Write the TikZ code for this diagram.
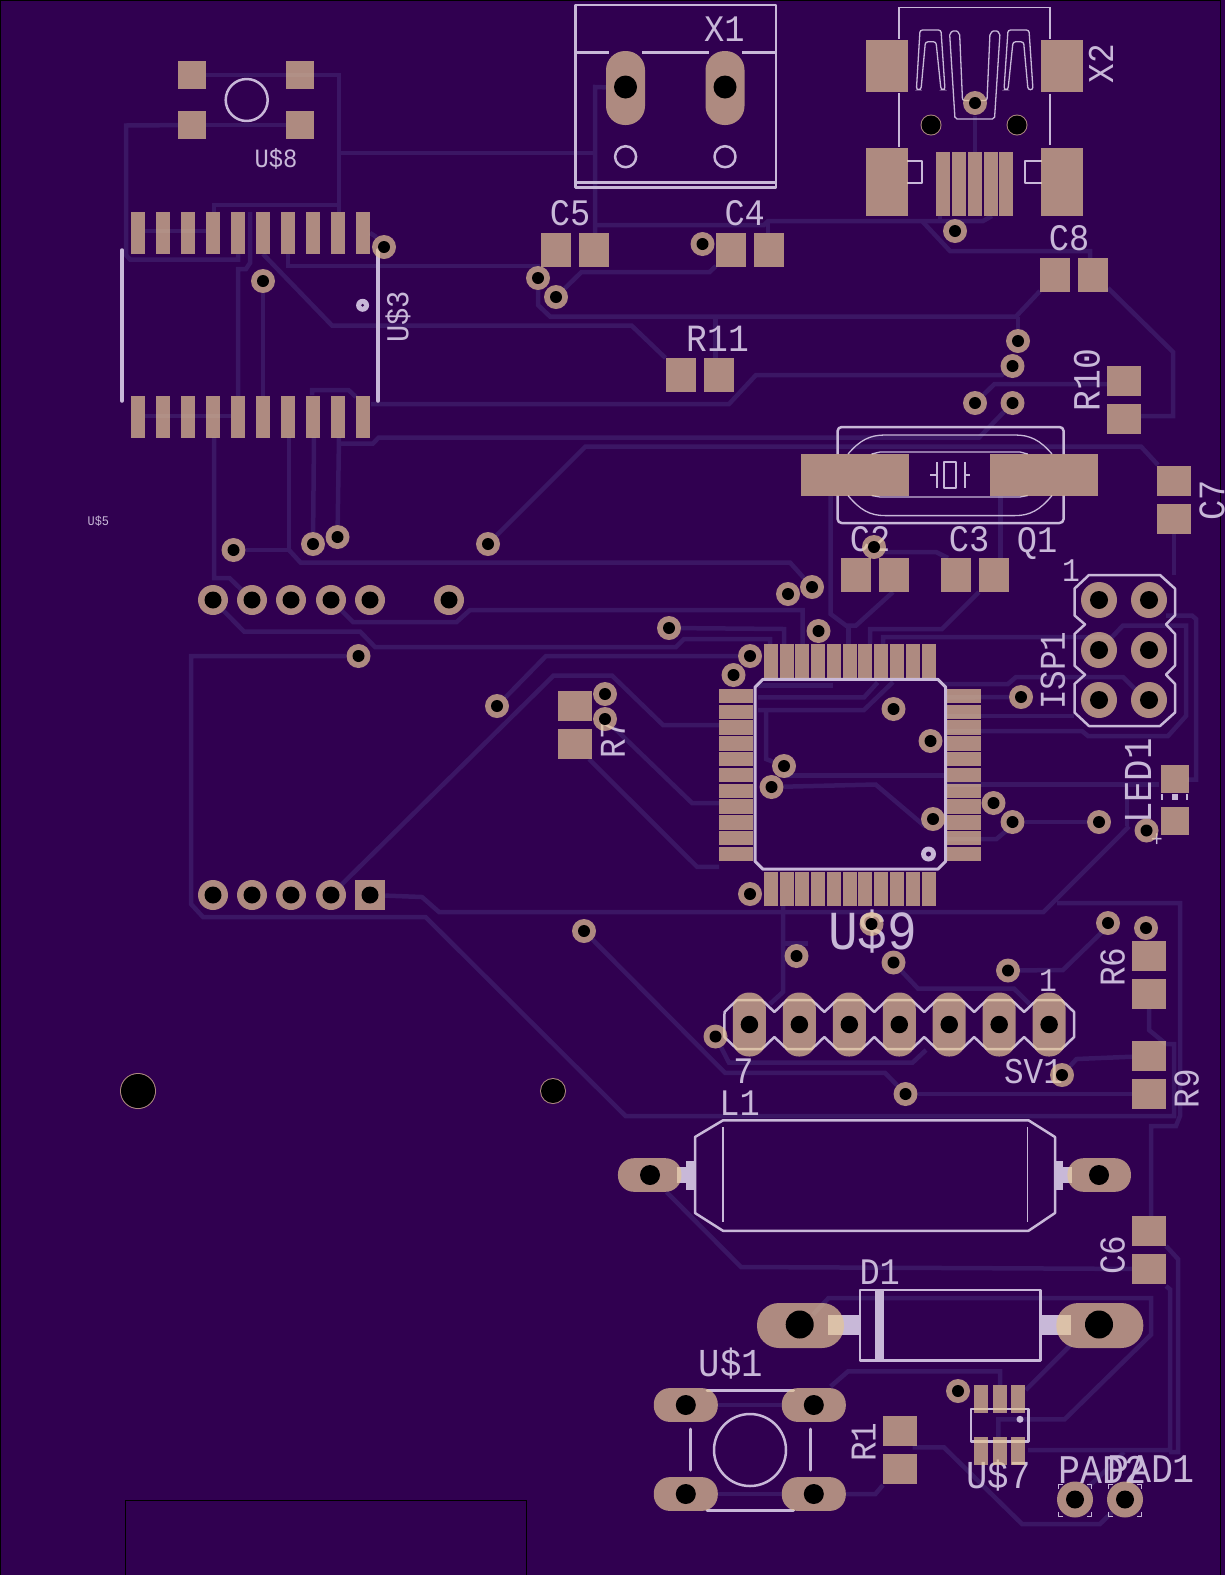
\documentclass[tikz,border=0pt]{standalone}
\usepackage{fontspec}
\newfontfamily\boardfont[Scale=1.1,FakeStretch=0.9]{Liberation Mono}
\definecolor{boardcol}{HTML}{300050}
\definecolor{trackcol}{HTML}{3B1664}
\definecolor{padcol}{HTML}{E4C595}
\definecolor{silkcol}{HTML}{C8B8D8}
\pgfdeclarelayer{boardlayer}
\pgfdeclarelayer{tracklayer}
\pgfdeclarelayer{silklayer}
\pgfsetlayers{boardlayer,tracklayer,silklayer,main}
\tikzset{
  track/.style={draw=trackcol, line width=4.5pt},
  silk/.style={draw=silkcol, line width=2.5pt, line join=round},
  thinsilk/.style={draw=silkcol, line width=1.3pt},
  smd/.style={rectangle, fill=padcol, fill opacity=0.7, inner sep=0pt},
  thru/.style={circle, fill=padcol, fill opacity=0.7, inner sep=0pt},
  drill/.style={circle, fill=black, inner sep=0pt},
  silklabel/.style={text=silkcol, inner sep=0pt, font=\boardfont\fontsize{#1}{#1}\selectfont},
}
\begin{document}
\begin{tikzpicture}[x=1pt, y=-1pt]
  \useasboundingbox (0,0) rectangle (1225,1575);
  \begin{pgfonlayer}{boardlayer}
    \fill[boardcol] (0,0) rectangle (1225,1575);
    \draw[black, line width=1pt] (0.5,1575) -- (0.5,0.5) -- (1220,0.5) -- (1220,1575);
  \end{pgfonlayer}

  % vias
  \foreach \name/\x/\y in {a/384/247, b/263/281, c/538/278, d/556/297, e/702.5/244, f/975/103, g/955/231, h/1018/341,
      i/1012.5/366, j/975/403, k/1012.5/403, l/233.5/550, m/313/544, n/337.5/537, o/488/544, p/358.5/656, q/497/706,
      r/605/694, s/605/719, t/584/931, u/874/547, v/788/594, w/812/587, x/669/628, y/818.5/631, z/750/656,
      aa/733.5/675, ab/893.5/709, ac/930.5/741, ad/784/766, ae/771.5/787, af/933/819, ag/993.5/803, ah/1012.5/822,
      ai/1021/697, aj/1099/822, ak/1146.5/830.5, al/750/894, am/871.5/924, an/893.5/962.5, ao/796.5/956, ap/1008/970.5,
      aq/1108/923, ar/1146/928, as/715.5/1036.5, at/1062/1075, au/905.5/1094, av/958/1391}
    {
    \node[thru, minimum size=24pt] (via\name) at (\x,\y) {};
    \node[drill, minimum size=12pt] (hole\name) at (\x,\y) {};
    }

  % header pins
  \foreach \name/\x/\y in {1/213/600, 2/252/600, 3/291/600, 4/331/600, 5/370/600, 6/449/600,
      7/213/895, 8/252/895, 9/291/895, 10/331/895}
    {
    \node[thru, minimum size=30pt] (pin\name) at (\x,\y) {};
    \node[drill, minimum size=17pt] (pinhole\name) at (\x,\y) {};
    }
  \node[smd, minimum size=30pt] (pin11) at (370,895) {};
  \node[drill, minimum size=17pt] (pinhole11) at (370,895) {};

  % mounting holes
  \node[thru, minimum size=36pt] (mounta) at (138,1091) {};
  \node[drill, minimum size=34pt] (mountholea) at (138,1091) {};
  \node[thru, minimum size=26pt] (mountb) at (553,1091) {};
  \node[drill, minimum size=24pt] (mountholeb) at (553,1091) {};
  \node[thru, minimum size=21pt] (mountc) at (931,125) {};
  \node[drill, minimum size=19pt] (mountholec) at (931,125) {};
  \node[thru, minimum size=21pt] (mountd) at (1017,125) {};
  \node[drill, minimum size=19pt] (mountholed) at (1017,125) {};

  % U$8
  \node[smd, minimum size=28pt] (u8a) at (192,75) {};
  \node[smd, minimum size=28pt] (u8b) at (300,75) {};
  \node[smd, minimum size=28pt] (u8c) at (192,125) {};
  \node[smd, minimum size=28pt] (u8d) at (300,125) {};

  % U$3
  \foreach \i in {0,...,9} {
    \node[smd, minimum width=14pt, minimum height=42pt] (u3t\i) at ({138+25*\i},233) {};
    \node[smd, minimum width=14pt, minimum height=42pt] (u3b\i) at ({138+25*\i},416.5) {};
  }

  % two pad parts
  \foreach \name/\x/\y in {c5a/556/250, c5b/594/250, c4a/731/250, c4b/769/250, c8a/1055/275, c8b/1093/275, r11a/681/375,
      r11b/719/375, c2a/855.5/575, c2b/893.5/575, c3a/955.5/575, c3b/993.5/575}
    {\node[smd, minimum width=30pt, minimum height=34pt] (\name) at (\x,\y) {};}
  \foreach \name/\x/\y in {r10a/1124/381, r10b/1124/419, c7a/1174/481, c7b/1174/519, r7a/575/706, r7b/575/744,
      r6a/1149/956, r6b/1149/994, r9a/1149/1056, r9b/1149/1094, c6a/1149/1231, c6b/1149/1269, r1a/899.5/1431, r1b/899.5/1469}
    {\node[smd, minimum width=34pt, minimum height=30pt] (\name) at (\x,\y) {};}

  % X1
  \node[smd, minimum width=39pt, minimum height=74pt, rounded corners=19pt] (x1a) at (625.5,88) {};
  \node[smd, minimum width=39pt, minimum height=74pt, rounded corners=19pt] (x1b) at (725,88) {};
  \node[drill, minimum size=23pt] (x1holea) at (625.5,87) {};
  \node[drill, minimum size=23pt] (x1holeb) at (725,87) {};

  % X2
  \node[smd, minimum width=42pt, minimum height=52pt] (x2a) at (886.5,66) {};
  \node[smd, minimum width=42pt, minimum height=52pt] (x2b) at (1062,66) {};
  \node[smd, minimum width=42pt, minimum height=68pt] (x2c) at (886.5,182) {};
  \node[smd, minimum width=42pt, minimum height=68pt] (x2d) at (1062,182) {};
  \foreach \name/\x in {p/943.3, q/958.6, r/974.6, s/990.6, t/1006}
    {\node[smd, minimum width=14pt, minimum height=64pt] (x2\name) at (\x,184) {};}

  % Q1
  \node[smd, minimum width=108pt, minimum height=41.5pt] (q1a) at (854.5,474.8) {};
  \node[smd, minimum width=108pt, minimum height=41.5pt] (q1b) at (1044,474.8) {};

  % ISP1
  \foreach \name/\x/\y in {a/1099/600, b/1149/600, c/1099/650, d/1149/650, e/1099/700, f/1149/700} {
    \node[thru, minimum size=36pt] (isp\name) at (\x,\y) {};
    \node[drill, minimum size=18pt] (isphole\name) at (\x,\y) {};
  }

  % LED1
  \node[smd, minimum width=28pt, minimum height=28pt] (leda) at (1175,779) {};
  \node[smd, minimum width=28pt, minimum height=28pt] (ledb) at (1175,821) {};

  % U$9
  \foreach \i in {0,...,10} {
    \node[smd, minimum width=14pt, minimum height=34pt] (qt\i) at ({770.8+15.78*\i},661) {};
    \node[smd, minimum width=14pt, minimum height=34pt] (qb\i) at ({770.8+15.78*\i},888.5) {};
    \node[smd, minimum width=34pt, minimum height=14.4pt] (ql\i) at (736,{695.9+15.8*\i}) {};
    \node[smd, minimum width=34pt, minimum height=14.4pt] (qr\i) at (963.5,{695.9+15.8*\i}) {};
  }

  % SV1
  \foreach \i in {0,...,6} {
    \node[smd, minimum width=33pt, minimum height=64pt, rounded corners=16pt] (sv\i) at ({749.4+49.95*\i},1024.5) {};
    \node[drill, minimum size=17.5pt] (svhole\i) at ({749.4+49.95*\i},1024.5) {};
  }

  % L1
  \node[smd, minimum width=63.5pt, minimum height=33.6pt, rounded corners=16pt] (l1a) at (649.7,1175) {};
  \node[smd, minimum width=63.5pt, minimum height=33.6pt, rounded corners=16pt] (l1b) at (1099.2,1175) {};
  \node[drill, minimum size=20pt] (l1holea) at (650,1175) {};
  \node[drill, minimum size=20pt] (l1holeb) at (1099,1175) {};

  % D1
  \node[smd, minimum width=87pt, minimum height=45pt, rounded corners=22pt] (d1a) at (800.5,1325.5) {};
  \node[smd, minimum width=87pt, minimum height=45pt, rounded corners=22pt] (d1b) at (1099.8,1325.5) {};
  \node[drill, minimum size=28pt] (d1holea) at (799.7,1324.5) {};
  \node[drill, minimum size=28pt] (d1holeb) at (1099,1324.5) {};

  % U$1
  \foreach \name/\x/\y in {a/685.8/1405, b/813.8/1405, c/685.8/1494, d/813.8/1494} {
    \node[smd, minimum width=64pt, minimum height=33.8pt, rounded corners=16pt] (sw\name) at (\x,\y) {};
    \node[drill, minimum size=20pt] (swhole\name) at (\x,\y) {};
  }

  % U$7
  \foreach \name/\x in {a/980.5, b/999.5, c/1018.3} {
    \node[smd, minimum width=14pt, minimum height=28pt] (u7t\name) at (\x,1399) {};
    \node[smd, minimum width=14pt, minimum height=28pt] (u7b\name) at (\x,1451) {};
  }

  % PAD1, PAD2
  \node[thru, minimum size=36pt] (pada) at (1075,1499.5) {};
  \node[drill, minimum size=18pt] (padholea) at (1075,1499.5) {};
  \node[thru, minimum size=36pt] (padb) at (1125,1499.5) {};
  \node[drill, minimum size=18pt] (padholeb) at (1125,1499.5) {};

  \begin{pgfonlayer}{tracklayer}
    \draw[track] (u8a) -- (339,75) -- (339,205) -- (214,205) -- (214,212);
    \draw[track] (339,205) -- (339,212);
    \draw[track] (u8c) -- (126,125.5) -- (126,255) -- (130,259.5) -- (238,259.5) -- (238,254);
    \draw[track] (u8c) -- (u8d);
    \draw[track] (145,231) -- (206,231);
    \draw[track] (145,416) -- (231,416);
    \draw[track] (339,153) -- (595,153);
    \draw[track] (x1a) -- (595,87) -- (595,233);
    \draw[track] (250,212) -- (250,263) -- (246,269) -- (238,269) -- (238,396);
    \draw[track] (viab) -- (263,396);
    \draw[track] (263,254) -- (332,325.5) -- (631.5,325.5) -- (665.5,358);
    \draw[track] (288,254) -- (288,266) -- (540,266);
    \draw[track] (370,233) -- (375,236) -- (viaa);
    \draw[track] (viad) -- (581.5,272) -- (709.6,272) -- (716,266);
    \draw[track] (viac) -- (538,305) -- (550,316.5) -- (1016,316.5) -- (1040,291);
    \draw[track] (1018,316.5) -- (viah);
    \draw[track] (715.5,316.5) -- (715.5,358);
    \draw[track] (597,225) -- (764,225) -- (768,221) -- (983,221) -- (992,216);
    \draw[track] (768,221) -- (768,233);
    \draw[track] (940,221) -- (940,216);
    \draw[track] (922,221) -- (950,251) -- (1090,251) -- (1090,258);
    \draw[track] (975,115.5) -- (975,152);
    \draw[track] (1108,288) -- (1173,352) -- (1173,416) -- (1141,416);
    \draw[track] (1107,384) -- (994.5,384) -- (viaj);
    \draw[track] (viai) -- (1002,375) -- (756,375) -- (729,404) -- (371,404);
    \draw[track] (312,395) -- (312,390) -- (348.5,390) -- (356,397);
    \draw[track] (339,443.5) -- (373,443.5) -- (378.6,437.6) -- (979,437.6) -- (viak);
    \draw[track] (viao) -- (585.5,446.5) -- (1141,446.5) -- (1158,465);
    \draw[track] (214,437) -- (214,578) -- (229.5,578) -- (pin2);
    \draw[track] (289,437) -- (289,550) -- (vial);
    \draw[track] (289,550) -- (300.5,562.5) -- (790,562.5) -- (viaw);
    \draw[track] (viam) -- (314,437);
    \draw[track] (vian) -- (339,437);
    \draw[track] (pin4) -- (353,622) -- (456.6,622) -- (470,610) -- (802.5,610) -- (802.5,644);
    \draw[track] (pin1) -- (244,631.5) -- (360,631.5) -- (375,647) -- (676,647) -- (684,639) -- (770,639) -- (770,644);
    \draw[track] (viax) -- (784,629) -- (784,644);
    \draw[track] (viaq) -- (546,656) -- (viaz);
    \draw[track] (pin10) -- (553.5,675.6) -- (612,675.6) -- (663,725) -- (719,725);
    \draw[track] (vias) -- (692,803) -- (719,803);
    \draw[track] (589,759) -- (697,866.8) -- (719,866.8);
    \draw[track] (pin11) -- (422,897) -- (439,912) -- (1043.5,912) -- (1129,826.4);
    \draw[track] (1057,903) -- (1180,903) -- (1180,1116) -- (1176,1126) -- (1151,1126) -- (1151,1216);
    \draw[track] (783,905) -- (783,992) -- (770,1004);
    \draw[track] (783,943.6) -- (808,943.6);
    \draw[track] (viap) -- (191,656) -- (191,904) -- (203,917) -- (425.5,917) -- (625.6,1116) -- (1174,1116) -- (1174,1044) -- (1166,1044);
    \draw[track] (1149,1009) -- (1149,1030) -- (1166,1044);
    \draw[track] (viat) -- (725,1072.8) -- (885,1072.8) -- (viaau);
    \draw[track] (830.6,495.7) -- (830.6,614) -- (846,625.5) -- (856,625.5) -- (893,592);
    \draw[track] (848.5,625.5) -- (848.5,644);
    \draw[track] (1000.6,495.7) -- (1000.6,558);
    \draw[track] (viau) -- (881,552) -- (936,552) -- (948,558);
    \draw[track] (979,592) -- (942,629) -- (870,629) -- (870,644);
    \draw[track] (883,644) -- (883,637) -- (1112,637) -- (1123,625.5) -- (1186,625.5) -- (1186,716) -- (1168,736) -- (1088,736) -- (1082,731) -- (944,731);
    \draw[track] (1166,615.6) -- (1192,615.6) -- (1196,619) -- (1196,779.5) -- (1188,779.5);
    \draw[track] (944,684) -- (1008,684) -- (1016,677) -- (1123,677) -- (1135,689);
    \draw[track] (944,697.4) -- (viaai);
    \draw[track] (944,716) -- (1074,716);
    \draw[track] (944,784.5) -- (1159,784.5);
    \draw[track] (944,839) -- (996.5,839) -- (1006,831) -- (viaah);
    \draw[track] (viaah) -- (viaaj);
    \draw[track] (1127,784.5) -- (1127,826);
    \draw[track] (758,710) -- (864,710) -- (893,682);
    \draw[track] (758,697.4) -- (864,697.4) -- (877.6,682.4);
    \draw[track] (758,685.7) -- (832.6,685.7);
    \draw[track] (766,712) -- (766,759) -- (viaad);
    \draw[track] (viaae) -- (875.6,784.5) -- (924.6,826) -- (viaaf);
    \draw[track] (784,775.4) -- (944,775.4);
    \draw[track] (viaan) -- (918,988.6) -- (1014,988.6) -- (1029.6,1004);
    \draw[track] (viaap) -- (1063,970) -- (1102,932) -- (viaaq);
    \draw[track] (viaau) -- (r9b);
    \draw[track] (viaat) -- (1076.5,1059) -- (r9a);
    \draw[track] (viaas) -- (729,1062.7) -- (912.5,1062.7) -- (926,1050);
    \draw[track] (l1a) -- (741,1267) -- (c6b);
    \draw[track] (1166,1246) -- (1178,1259) -- (1178,1452) -- (1169,1452);
    \draw[track] (1166,1286) -- (1170,1289.4) -- (1170,1450) -- (1028,1450);
    \draw[track] (pada) -- (1103,1473) -- (1124,1452);
    \draw[track] (813,1314.6) -- (828.6,1298) -- (1151,1298) -- (1151,1334.6) -- (1064.7,1419.3) -- (998.4,1419.3) -- (998.4,1437.4);
    \draw[track] (830.6,1386.5) -- (848,1371.4) -- (1000,1371.4) -- (1000,1385);
    \draw[track] (1025.7,1390) -- (1071,1344.6);
    \draw[track] (swa) -- (swb);
    \draw[track] (swc) -- (swd);
    \draw[track] (swd) -- (875.4,1494) -- (883,1485);
    \draw[track] (912.5,1447.4) -- (944,1447.4) -- (1022,1524) -- (1100,1524) -- (padb);
    \draw[track] (c7b) -- (1174,575);
  \end{pgfonlayer}

  \begin{pgfonlayer}{silklayer}
    % outline at the foot of the board
    \draw[black, line width=1pt] (125.5,1575) -- (125.5,1500.5) -- (526,1500.5) -- (526,1575);

    \draw[silk] (246.7,100) circle (21pt);
    \draw[silk, line width=3.5pt, line cap=round] (122,250) -- (122,401);
    \draw[silk, line width=3.5pt, line cap=round] (378,250) -- (378,401);
    \fill[silkcol] (362.6,305.3) circle (6.5pt);
    \fill[boardcol] (362.6,305.3) circle (1.5pt);

    % X1
    \draw[silk] (575.7,5) rectangle (776,187.5);
    \draw[silk] (575.7,182.5) -- (776,182.5);
    \draw[silk] (575.7,52.6) -- (609,52.6);
    \draw[silk] (642.4,52.6) -- (709,52.6);
    \draw[silk] (742,52.6) -- (775,52.6);
    \draw[silk] (625.6,156.7) circle (10.5pt);
    \draw[silk] (725,156.7) circle (10.5pt);

    % X2
    \draw[thinsilk, line width=1.6pt] (899,38.5) -- (899,7.4) -- (1050,7.4) -- (1050,38.5);
    \draw[thinsilk, line width=1.6pt] (899,93) -- (899,146.6);
    \draw[thinsilk, line width=1.6pt] (1050,93.7) -- (1050,144.6);
    \draw[thinsilk, rounded corners=2.5pt] (916.4,89.7) -- (920,30) -- (941,30) -- (945,89.7) -- (941,89.7) -- (936,41.8) -- (925.4,41.8) -- (921,89.7) -- cycle;
    \draw[thinsilk, rounded corners=2.5pt] (1033,89.7) -- (1029,30) -- (1008,30) -- (1004,89.7) -- (1008,89.7) -- (1013,41.8) -- (1023.6,41.8) -- (1028,89.7) -- cycle;
    \draw[thinsilk, rounded corners=2pt] (949.6,33) -- (955,30) -- (959.6,33) -- (962.5,100.4) -- (987,100.4) -- (990,33) -- (995,30) -- (1000,33) -- (994.5,119) -- (955,119) -- cycle;
    \draw[silk, line width=2pt] (907.4,160.7) -- (922.3,160.7) -- (922.3,183) -- (907.4,183);
    \draw[silk, line width=2pt] (1041.5,160.7) -- (1025,160.7) -- (1025,183) -- (1041.5,183);

    % Q1
    \draw[silk, rounded corners=4pt] (837.6,454) -- (837.6,427) -- (1063.6,427) -- (1063.6,454);
    \draw[silk, rounded corners=4pt] (837.6,495.5) -- (837.6,523) -- (1063.6,523) -- (1063.6,495.5);
    \draw[thinsilk] (848,454) .. controls (860,440) and (870,435) .. (885,435) -- (1015,435) .. controls (1030,435) and (1040,440) .. (1052,454);
    \draw[thinsilk] (848,495.5) .. controls (860,510) and (870,515.6) .. (885,515.6) -- (1015,515.6) .. controls (1030,515.6) and (1040,510) .. (1052,495.5);
    \draw[thinsilk] (871.6,454) -- (880,452) -- (1020,452) -- (1027.7,454);
    \draw[thinsilk] (871.6,495.5) -- (880,497) -- (1020,497) -- (1027.7,495.5);
    \draw[silk, line width=2pt] (944,462) rectangle (955.5,488);
    \draw[silk, line width=2pt] (937,462) -- (937,488);
    \draw[silk, line width=2pt] (964.5,462) -- (964.5,488);
    \draw[silk, line width=2pt] (930,475) -- (937,475);
    \draw[silk, line width=2pt] (964.5,475) -- (970,475);

    % ISP1
    \draw[silk] (1089,575) -- (1160,575) -- (1175,588.6) -- (1175,615.4) -- (1166,624.4) -- (1175,634) -- (1175,665.6) -- (1166,674.7) -- (1175,684) -- (1175,712.5) -- (1160,726) -- (1089,726) -- (1074.5,712.5) -- (1074.5,684) -- (1085,674.7) -- (1074.5,665.6) -- (1074.5,634) -- (1085,624.4) -- (1074.5,615.4) -- (1074.5,588.6) -- cycle;

    % LED1
    \fill[silkcol] (1171.7,794) rectangle (1177.7,800);
    \draw[silk, line width=1.6pt] (1162,794) -- (1162,800);
    \draw[silk, line width=1.6pt] (1187,794) -- (1187,800);

    % U$9
    \draw[silk, line width=3pt] (763,679.3) -- (937.7,679.3) -- (945.7,687.3) -- (945.7,861.2) -- (937.7,869.2) -- (763,869.2) -- (755,861.2) -- (755,687.3) -- cycle;
    \fill[silkcol] (928.5,854) circle (7.5pt);
    \fill[boardcol] (928.5,854) circle (2.5pt);

    % SV1
    \draw[silk] (724.5,1012)
      \foreach \i in {0,...,6} { -- ({749.4+49.95*\i-12.5},1000) -- ({749.4+49.95*\i+12.5},1000) -- ({749.4+49.95*\i+25},1012) }
      -- ({749.4+49.95*6+25},1037)
      \foreach \i in {6,...,0} { -- ({749.4+49.95*\i+12.5},1049) -- ({749.4+49.95*\i-12.5},1049) -- ({749.4+49.95*\i-25},1037) }
      -- cycle;

    % L1
    \draw[silk] (723,1120.3) -- (1028.5,1120.3) -- (1055,1137) -- (1055,1213) -- (1028.5,1230.8) -- (723,1230.8) -- (695,1213) -- (695,1137) -- cycle;
    \draw[thinsilk] (723,1127) -- (723,1222.4);
    \draw[thinsilk] (1027.7,1127) -- (1027.7,1222.4);
    \fill[silkcol] (686,1160.5) rectangle (695,1189.6);
    \fill[silkcol] (677,1167) rectangle (686,1183);
    \fill[silkcol] (1055,1160.5) rectangle (1063,1189.6);
    \fill[silkcol] (1063,1167) rectangle (1072,1183);

    % D1
    \draw[silk] (860,1290) rectangle (1040.5,1360.7);
    \fill[silkcol] (874.7,1290) rectangle (884,1360.7);
    \fill[silkcol] (828,1314.5) rectangle (860,1334.6);
    \fill[silkcol] (1040.5,1314.5) rectangle (1071.4,1334.6);

    % U$1
    \draw[silk, line width=3pt, line cap=round] (707,1390) -- (793.5,1390);
    \draw[silk, line width=3pt, line cap=round] (707,1510) -- (793.5,1510);
    \draw[silk, line width=3pt, line cap=round] (690,1429) -- (690,1470);
    \draw[silk, line width=3pt, line cap=round] (810,1429) -- (810,1470);
    \draw[silk] (750,1450) circle (36pt);

    % U$7
    \draw[silk] (971,1409) rectangle (1028.5,1441.7);
    \fill[silkcol] (1020,1419.3) circle (3.5pt);

    % PAD1, PAD2 corner marks
    \foreach \cx in {1075,1125} {
      \draw[silk, line width=1.6pt] ({\cx-16.5},1489) -- ({\cx-16.5},1484.5) -- ({\cx-12},1484.5);
      \draw[silk, line width=1.6pt] ({\cx+16.5},1489) -- ({\cx+16.5},1484.5) -- ({\cx+12},1484.5);
      \draw[silk, line width=1.6pt] ({\cx-16.5},1512) -- ({\cx-16.5},1516.5) -- ({\cx-12},1516.5);
      \draw[silk, line width=1.6pt] ({\cx+16.5},1512) -- ({\cx+16.5},1516.5) -- ({\cx+12},1516.5);
    }

    % labels
    \node[silklabel=24] (lblu8) at (276,159) {U\$8};
    \node[silklabel=29, rotate=90] (lblu3) at (398,317) {U\$3};
    \node[silklabel=12] (lblu5) at (98.4,521) {U\$5};
    \node[silklabel=34] (lblx1) at (724.4,29) {X1};
    \node[silklabel=33, rotate=90] (lblx2) at (1101,63.6) {X2};
    \node[silklabel=34] (lblc5) at (570,213.5) {C5};
    \node[silklabel=34] (lblc4) at (744.7,213.5) {C4};
    \node[silklabel=34] (lblc8) at (1069,238.5) {C8};
    \node[silklabel=35] (lblr11) at (718,339) {R11};
    \node[silklabel=35, rotate=90] (lblr10) at (1087,380) {R10};
    \node[silklabel=34, rotate=90] (lblc7) at (1212,500.5) {C7};
    \node[silklabel=34] (lblc2) at (870,539) {C2};
    \node[silklabel=34] (lblc3) at (969,539) {C3};
    \node[silklabel=34] (lblq1) at (1037,544) {Q1};
    \node[silklabel=30] (lblisp) at (1071,571) {1};
    \node[silklabel=33, rotate=90] (lblisp1) at (1053,670.6) {ISP1};
    \node[silklabel=36, rotate=90] (lblled1) at (1138,781) {LED1};
    \node[silklabel=20] (lblplus) at (1156.7,840) {+};
    \node[silklabel=33, rotate=90] (lblr7) at (613,739) {R7};
    \node[silklabel=50] (lblu9) at (872.7,932) {U\$9};
    \node[silklabel=33, rotate=90] (lblr6) at (1112.6,967) {R6};
    \node[silklabel=30] (lblsv) at (1048,981) {1};
    \node[silklabel=34] (lblseven) at (743.5,1071) {7};
    \node[silklabel=33] (lblsv1) at (1033.5,1072) {SV1};
    \node[silklabel=33, rotate=90] (lblr9) at (1186.7,1088.5) {R9};
    \node[silklabel=34] (lbll1) at (739.6,1103) {L1};
    \node[silklabel=33, rotate=90] (lblc6) at (1112.6,1255) {C6};
    \node[silklabel=34] (lbld1) at (879.7,1272) {D1};
    \node[silklabel=36] (lblu1) at (731,1364) {U\$1};
    \node[silklabel=33, rotate=90] (lblr1) at (863.6,1442) {R1};
    \node[silklabel=36] (lblu7) at (998.4,1476) {U\$7};
    \node[silklabel=37] (lblpad2) at (1102.5,1469.5) {PAD2};
    \node[silklabel=37] (lblpad1) at (1151,1469.5) {PAD1};
  \end{pgfonlayer}
\end{tikzpicture}
\end{document}
